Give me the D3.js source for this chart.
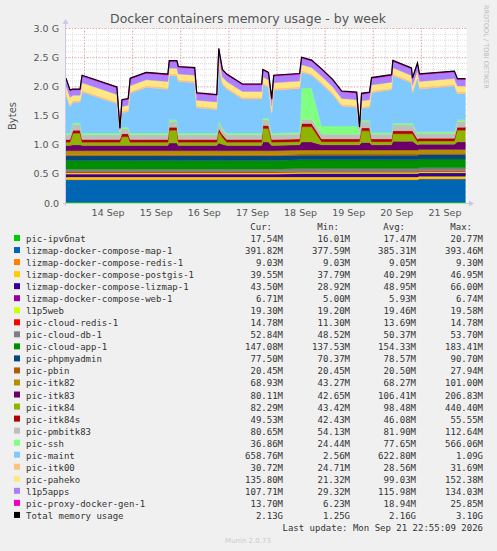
<!DOCTYPE html>
<html>
<head>
<meta charset="utf-8">
<script src="https://cdn.jsdelivr.net/npm/d3@7"></script>
<style>
  body { margin: 0; background: #f0f0f0; }
  svg { display: block; }
</style>
</head>
<body>
<svg id="chart" width="497" height="551"></svg>
<script>
// hours since Sep 13 15:00
var hours = [0,2,3.5,7,8,25.4,26.9,27.9,31,32,40,50.8,51.5,55.3,56,64.2,65.2,75.2,76.2,78,80.2,88,97.6,98.2,101,102.6,103.6,116.5,117.5,122.5,127.5,133,137.5,145,146.4,147.4,151.4,152.4,162.4,163,172.3,172.8,175.3,176.3,193.7,195.2,199.2];

// values in MB, stacked bottom to top
var ipv6nat   = [17.5,17.5,17.5,17.5,17.5,17.5,17.5,17.5,17.5,17.5,17.5,17.5,17.5,17.5,17.5,17.5,17.5,17.5,17.5,17.5,17.5,17.5,17.5,17.5,17.5,17.5,17.5,17.5,17.5,17.5,17.5,17.5,17.5,17.5,17.5,17.5,17.5,17.5,17.5,17.5,17.5,17.5,17.5,17.5,17.5,17.5,17.5];
var map1      = [380,380,380,380,380,380,380,380,380,380,380,380,380,380,380,380,380,380,380,380,380,380,380,380,380,380,380,380,380,380,380,380,380,380,380,380,380,380,380,380,380,380,380,392,392,392,392];
var redis     = [9,9,9,9,9,9,9,9,9,9,9,9,9,9,9,9,9,9,9,9,9,9,9,9,9,9,9,9,9,9,9,9,9,9,9,9,9,9,9,9,9,9,9,9,9,9,9];
var postgis   = [40,40,40,40,40,40,40,40,40,40,40,40,40,40,40,40,40,40,40,40,40,40,40,40,40,40,40,40,40,40,40,40,40,40,40,40,40,40,40,40,40,40,40,40,40,40,40];
var lizmap    = [45,45,45,45,45,45,45,45,45,45,45,45,45,45,45,45,45,45,45,45,45,45,45,45,45,45,45,55,55,55,55,55,55,55,55,55,55,55,55,55,55,55,55,55,55,55,55];
var web       = [6,6,6,6,6,6,6,6,6,6,6,6,6,6,6,6,6,6,6,6,6,6,6,6,6,6,6,6,6,6,6,6,6,6,6,6,6,6,6,6,6,6,6,6,6,6,6];
var l1p5web   = [19.4,19.4,19.4,19.4,19.4,19.4,19.4,19.4,19.4,19.4,19.4,19.4,19.4,19.4,19.4,19.4,19.4,19.4,19.4,19.4,19.4,19.4,19.4,19.4,19.4,19.4,19.4,19.4,19.4,19.4,19.4,19.4,19.4,19.4,19.4,19.4,19.4,19.4,19.4,19.4,19.4,19.4,19.4,19.4,19.4,19.4,19.4];
var cloudRedis= [13.7,13.7,13.7,13.7,13.7,13.7,13.7,13.7,13.7,13.7,13.7,13.7,13.7,13.7,13.7,13.7,13.7,13.7,13.7,13.7,13.7,13.7,13.7,13.7,13.7,13.7,13.7,13.7,13.7,13.7,13.7,13.7,13.7,13.7,13.7,13.7,13.7,13.7,13.7,13.7,13.7,13.7,13.7,13.7,13.7,13.7,13.7];
var cloudDb   = [50,50,50,50,50,50,50,50,50,50,50,50,50,50,50,50,50,50,50,50,50,50,50,50,50,50,50,50,50,50,50,50,50,50,50,50,50,50,50,50,50,50,50,50,50,50,50];
var cloudApp  = [150,150,150,150,150,150,150,150,150,150,150,150,150,150,150,150,150,150,150,150,150,150,150,150,150,150,150,150,150,150,150,150,150,150,150,150,150,150,150,150,150,150,150,150,150,150,150];
var phpmyadmin= [78,78,78,78,78,78,78,78,78,78,78,78,78,78,78,78,78,78,78,78,78,78,78,78,78,78,78,78,78,78,78,78,78,78,78,78,78,78,78,78,78,78,78,78,78,78,78];
var pbin      = [20.5,20.5,20.5,20.5,20.5,20.5,20.5,20.5,20.5,20.5,20.5,20.5,20.5,20.5,20.5,20.5,20.5,20.5,20.5,20.5,20.5,20.5,20.5,20.5,20.5,20.5,20.5,20.5,20.5,20.5,20.5,20.5,20.5,20.5,20.5,20.5,20.5,20.5,20.5,20.5,20.5,20.5,20.5,20.5,20.5,20.5,20.5];
var itk82     = [68,68,68,68,68,68,68,68,68,68,68,68,68,68,68,68,68,68,68,68,68,68,68,68,68,68,68,68,68,68,68,68,68,68,68,68,68,68,68,68,68,68,68,68,68,68,68];
var itk83     = [90,90,100,100,90,90,90,90,90,90,90,90,130,130,90,90,90,90,130,110,90,90,90,150,150,90,90,90,140,140,90,90,90,90,90,130,130,90,90,150,150,150,90,90,90,130,130];
var itk84     = [55,55,200,200,55,55,55,150,150,55,55,55,220,220,55,55,55,55,200,120,55,55,55,230,230,55,55,55,260,260,55,55,55,55,55,200,200,55,55,130,130,130,55,55,55,200,200];
var itk84s    = [46,46,50,50,46,46,46,50,50,46,46,46,50,50,46,46,46,46,50,46,46,46,46,50,50,46,46,46,55,55,46,46,46,46,46,50,50,46,46,50,50,50,46,46,46,50,50];
var pmbitk83  = [80,80,100,100,80,80,80,80,80,80,80,80,100,100,80,80,80,80,100,80,80,80,80,100,100,80,80,80,70,70,80,80,80,80,80,100,100,80,80,100,100,100,80,80,80,100,100];
var ssh       = [30,30,30,30,30,30,30,30,30,30,30,30,30,30,30,30,30,30,30,30,30,30,30,30,30,30,30,30,540,540,140,140,140,140,40,30,30,30,30,30,30,30,30,30,30,30,30];
var maint     = [654,454,350,350,704,504,3,248,268,684,784,754,755,755,884,864,434,404,985,749,754,584,584,575,525,334,734,754,270,220,724,544,344,324,3,205,225,684,734,820,690,520,934,734,784,445,445];
var itk00     = [30,30,30,30,30,30,25,30,30,30,30,30,30,30,30,30,30,30,30,30,30,30,30,30,30,30,30,30,30,30,30,30,30,30,25,30,30,30,30,30,30,30,30,30,30,30,30];
var paheko    = [130,130,90,90,130,130,21,80,80,100,100,100,100,100,100,100,100,100,100,100,100,100,100,100,100,100,100,100,100,100,100,100,100,100,21,100,100,100,100,100,100,100,100,100,100,100,100];
var l1p5apps  = [110,110,90,90,110,110,29,100,100,110,110,110,110,110,110,110,110,110,110,110,110,110,110,110,110,110,110,110,110,110,110,110,110,110,29,110,110,110,110,110,110,110,110,110,110,110,110];
var proxy     = [18,18,15,15,18,18,6,15,15,18,18,18,18,18,18,18,18,18,18,18,18,18,18,18,18,18,18,18,18,18,18,18,18,18,6,18,18,18,18,18,18,18,18,18,18,18,18];

var seriesNames = ["pic-ipv6nat","lizmap-docker-compose-map-1","lizmap-docker-compose-redis-1","lizmap-docker-compose-postgis-1","lizmap-docker-compose-lizmap-1","lizmap-docker-compose-web-1","l1p5web","pic-cloud-redis-1","pic-cloud-db-1","pic-cloud-app-1","pic-phpmyadmin","pic-pbin","pic-itk82","pic-itk83","pic-itk84","pic-itk84s","pic-pmbitk83","pic-ssh","pic-maint","pic-itk00","pic-paheko","l1p5apps","pic-proxy-docker-gen-1"];
var seriesValues = [ipv6nat,map1,redis,postgis,lizmap,web,l1p5web,cloudRedis,cloudDb,cloudApp,phpmyadmin,pbin,itk82,itk83,itk84,itk84s,pmbitk83,ssh,maint,itk00,paheko,l1p5apps,proxy];
var colors = ["#00CC00","#0066B3","#FF8000","#FFCC00","#330099","#990099","#CCFF00","#FF0000","#808080","#008F00","#00487D","#B35A00","#B38F00","#6B006B","#8FB300","#B30000","#BEBEBE","#80FF80","#80C9FF","#FFC080","#FFE680","#AA80FF","#EE00CC"];

// legend table (Cur, Min, Avg, Max)
var legendCur = ["17.54M","391.82M","9.03M","39.55M","43.50M","6.71M","19.30M","14.78M","52.84M","147.08M","77.50M","20.45M","68.93M","80.11M","82.29M","49.53M","80.65M","36.86M","658.76M","30.72M","135.80M","107.71M","13.70M","2.13G"];
var legendMin = ["16.01M","377.59M","9.03M","37.79M","28.92M","5.00M","19.20M","11.30M","48.52M","137.53M","70.37M","20.45M","43.27M","42.65M","43.42M","42.43M","54.13M","24.44M","2.56M","24.71M","21.32M","29.32M","6.23M","1.25G"];
var legendAvg = ["17.47M","385.31M","9.05M","40.29M","48.95M","5.93M","19.46M","13.69M","50.37M","154.33M","78.57M","20.50M","68.27M","106.41M","98.48M","46.08M","81.90M","77.65M","622.80M","28.56M","99.03M","115.98M","18.94M","2.16G"];
var legendMax = ["20.77M","393.46M","9.30M","46.95M","66.00M","6.74M","19.58M","14.78M","53.70M","183.41M","90.70M","27.94M","101.00M","206.83M","440.40M","55.55M","112.64M","566.06M","1.09G","31.69M","152.38M","134.03M","25.85M","3.10G"];

var yTicks = [0, 0.5, 1.0, 1.5, 2.0, 2.5, 3.0];
var yTickLabels = ["0.0","0.5 G","1.0 G","1.5 G","2.0 G","2.5 G","3.0 G"];
var dayLabels = ["14 Sep","15 Sep","16 Sep","17 Sep","18 Sep","19 Sep","20 Sep","21 Sep"];

var svg = d3.select("#chart");
var plotLeft = 66, plotRight = 467, plotTop = 28, plotBottom = 203;

var x = d3.scaleLinear().domain([0, 200]).range([plotLeft, plotRight]);
var y = d3.scaleLinear().domain([0, 3000]).range([plotBottom, plotTop]);

// plot background
svg.append("rect").attr("x", plotLeft).attr("y", plotTop).attr("width", plotRight - plotLeft).attr("height", plotBottom - plotTop).attr("fill", "#fff");

// minor grid
var g = svg.append("g");
d3.range(3, 200, 6).forEach(function (h) {
  g.append("line").attr("x1", x(h) + 0.5).attr("x2", x(h) + 0.5).attr("y1", plotTop).attr("y2", plotBottom)
    .attr("stroke", "#ddd").attr("stroke-dasharray", "1,1");
});
d3.range(100, 3001, 100).forEach(function (v) {
  g.append("line").attr("x1", plotLeft).attr("x2", plotRight).attr("y1", y(v) + 0.5).attr("y2", y(v) + 0.5)
    .attr("stroke", "#ddd").attr("stroke-dasharray", "1,1");
});
// major grid
d3.range(9, 200, 24).forEach(function (h) {
  g.append("line").attr("x1", x(h) + 0.5).attr("x2", x(h) + 0.5).attr("y1", plotTop).attr("y2", plotBottom)
    .attr("stroke", "#f0a0a0").attr("stroke-dasharray", "1,2");
});
yTicks.forEach(function (v) {
  g.append("line").attr("x1", plotLeft).attr("x2", plotRight).attr("y1", y(v * 1000) + 0.5).attr("y2", y(v * 1000) + 0.5)
    .attr("stroke", "#f0a0a0").attr("stroke-dasharray", "1,2");
});

// stacked areas
var rows = hours.map(function (h, i) {
  var r = { h: h };
  seriesValues.forEach(function (s, k) { r[k] = s[i]; });
  return r;
});
var stack = d3.stack().keys(d3.range(seriesValues.length));
var layers = stack(rows);
var area = d3.area()
  .x(function (d) { return x(d.data.h); })
  .y0(function (d) { return y(d[0]); })
  .y1(function (d) { return y(d[1]); });

svg.append("g").selectAll("path").data(layers).enter().append("path")
  .attr("d", area)
  .attr("fill", function (d, i) { return colors[i]; })
  .attr("stroke", function (d, i) { return colors[i]; })
  .attr("stroke-width", 0.4);

// total line
var totalLine = d3.line()
  .x(function (d) { return x(d.data.h); })
  .y(function (d) { return y(d[1]); });
svg.append("path").datum(layers[layers.length - 1])
  .attr("d", totalLine).attr("fill", "none").attr("stroke", "#000").attr("stroke-width", 1.2);

// axes
var axisColor = "#c8c8e8";
svg.append("line").attr("x1", plotLeft - 0.5).attr("x2", plotLeft - 0.5).attr("y1", plotBottom + 3).attr("y2", plotTop - 6).attr("stroke", axisColor);
svg.append("path").attr("d", "M" + (plotLeft - 3.5) + "," + (plotTop - 4) + "L" + (plotLeft - 0.5) + "," + (plotTop - 9) + "L" + (plotLeft + 2.5) + "," + (plotTop - 4) + "Z").attr("fill", axisColor);
svg.append("line").attr("x1", plotLeft - 3).attr("x2", plotRight + 4).attr("y1", plotBottom + 0.5).attr("y2", plotBottom + 0.5).attr("stroke", axisColor);
svg.append("path").attr("d", "M" + (plotRight + 2) + "," + (plotBottom - 2.5) + "L" + (plotRight + 7) + "," + (plotBottom + 0.5) + "L" + (plotRight + 2) + "," + (plotBottom + 3.5) + "Z").attr("fill", axisColor);

var textColor = "#555";
var font = "'DejaVu Sans', sans-serif";
svg.append("g").selectAll("text").data(yTicks).enter().append("text")
  .attr("x", 59).attr("y", function (d) { return y(d * 1000) + 3.5; })
  .attr("text-anchor", "end").attr("font-family", font).attr("font-size", 9.5).attr("fill", textColor)
  .text(function (d, i) { return yTickLabels[i]; });

svg.append("g").selectAll("text").data(dayLabels).enter().append("text")
  .attr("x", function (d, i) { return x(21 + 24 * i); }).attr("y", 216)
  .attr("text-anchor", "middle").attr("font-family", font).attr("font-size", 9.5).attr("fill", textColor)
  .text(function (d) { return d; });

svg.append("text").attr("x", 248).attr("y", 23).attr("text-anchor", "middle")
  .attr("font-family", font).attr("font-size", 12.5).attr("fill", "#555")
  .text("Docker containers memory usage - by week");
svg.append("text").attr("transform", "translate(16,116) rotate(-90)").attr("text-anchor", "middle")
  .attr("font-family", font).attr("font-size", 10).attr("fill", textColor).text("Bytes");
svg.append("text").attr("transform", "translate(484,5) rotate(90)").attr("text-anchor", "start")
  .attr("font-family", font).attr("font-size", 6.5).attr("fill", "#bbb").text("RRDTOOL / TOBI OETIKER");

// legend
var mono = "'DejaVu Sans Mono', monospace";
var cols = [283, 350, 416, 483];
var hdr = ["Cur:", "Min:", "Avg:", "Max:"];
hdr.forEach(function (h, i) {
  svg.append("text").attr("x", cols[i] - 11).attr("y", 230).attr("text-anchor", "end")
    .attr("font-family", mono).attr("font-size", 9).attr("fill", "#333").text(h);
});
var legendNames = seriesNames.concat(["Total memory usage"]);
var legendColors = colors.concat(["#000000"]);
var lg = svg.append("g").selectAll("g").data(legendNames).enter().append("g")
  .attr("transform", function (d, i) { return "translate(0," + (242 + i * 12.04) + ")"; });
lg.append("rect").attr("x", 14).attr("y", -7).attr("width", 6).attr("height", 6)
  .attr("fill", function (d, i) { return legendColors[i]; });
lg.append("text").attr("x", 26).attr("y", 0).attr("font-family", mono).attr("font-size", 9).attr("fill", "#333")
  .text(function (d) { return d; });
[legendCur, legendMin, legendAvg, legendMax].forEach(function (arr, c) {
  lg.append("text").attr("x", cols[c]).attr("y", 0).attr("text-anchor", "end")
    .attr("font-family", mono).attr("font-size", 9).attr("fill", "#333")
    .text(function (d, i) { return arr[i]; });
});
svg.append("text").attr("x", 483).attr("y", 531).attr("text-anchor", "end")
  .attr("font-family", mono).attr("font-size", 9).attr("fill", "#333")
  .text("Last update: Mon Sep 21 22:55:09 2026");
svg.append("text").attr("x", 248).attr("y", 543).attr("text-anchor", "middle")
  .attr("font-family", font).attr("font-size", 7).attr("fill", "#ccc").text("Munin 2.0.73");
</script>
</body>
</html>
